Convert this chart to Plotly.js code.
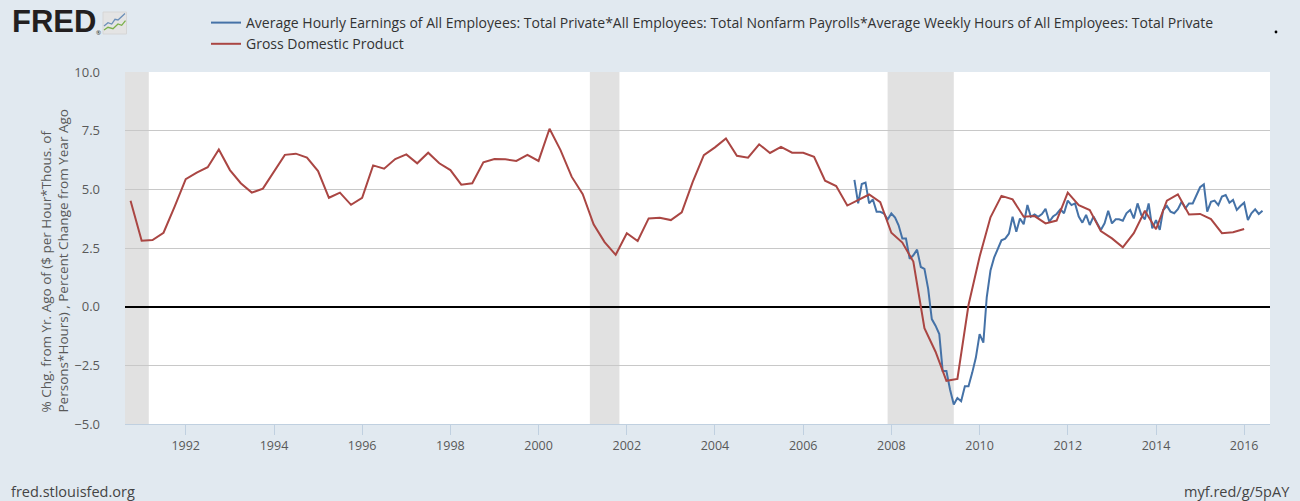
<!DOCTYPE html>
<html>
<head>
<meta charset="utf-8">
<script src="https://cdn.plot.ly/plotly-3.0.1.min.js"></script>
<style>html,body{margin:0;padding:0;background:#e1e9f0;}#chart{width:1300px;height:501px;}</style>
</head>
<body>
<div id="chart"></div>
<script>
// ---- Data ----
const gdpStart = [1990, 10];   // first quarterly observation (year, month)
const gdpValues = [
  4.51, 2.81, 2.84, 3.15, 4.26, 5.43, 5.71, 5.94, 6.70, 5.82,
  5.26, 4.86, 5.03, 5.75, 6.47, 6.52, 6.35, 5.78, 4.64, 4.86,
  4.34, 4.64, 6.02, 5.88, 6.29, 6.49, 6.11, 6.56, 6.11, 5.82,
  5.20, 5.26, 6.15, 6.29, 6.28, 6.21, 6.47, 6.21, 7.58, 6.67,
  5.54, 4.79, 3.51, 2.75, 2.21, 3.13, 2.80, 3.76, 3.79, 3.69,
  4.02, 5.32, 6.46, 6.79, 7.17, 6.43, 6.35, 6.92, 6.55, 6.81,
  6.56, 6.56, 6.39, 5.37, 5.14, 4.31, 4.54, 4.78, 4.45, 3.15,
  2.73, 1.92, -0.92, -1.92, -3.16, -3.08, 0.07, 2.13, 3.81, 4.72,
  4.57, 3.83, 3.86, 3.55, 3.67, 4.86, 4.33, 4.12, 3.22, 2.91,
  2.53, 3.13, 4.09, 3.30, 4.52, 4.79, 3.93, 3.95, 3.73, 3.13,
  3.17, 3.31
];
const laborStart = [2007, 3];  // first monthly observation (year, month)
const laborValues = [
  5.40, 4.40, 5.23, 5.29, 4.40, 4.57, 4.04, 4.04, 3.97, 3.71,
  3.97, 3.80, 3.47, 2.90, 2.90, 2.04, 2.19, 2.43, 1.69, 1.61,
  0.76, -0.53, -0.81, -1.17, -2.74, -2.74, -3.53, -4.17, -3.89, -4.03,
  -3.39, -3.39, -2.81, -2.17, -1.17, -1.53, 0.40, 1.54, 2.09, 2.47,
  2.83, 2.90, 3.11, 3.83, 3.19, 3.76, 3.51, 4.33, 3.83, 3.93,
  3.83, 3.95, 4.17, 3.62, 3.84, 3.95, 4.15, 3.98, 4.52, 4.33,
  4.40, 3.84, 3.58, 3.91, 3.48, 3.84, 3.55, 3.27, 3.55, 4.09,
  3.55, 3.72, 3.72, 3.66, 3.98, 4.12, 3.76, 4.40, 3.91, 3.72,
  4.40, 3.34, 3.69, 3.27, 4.12, 4.29, 4.05, 3.98, 4.15, 4.47,
  4.19, 4.40, 4.40, 4.72, 5.09, 5.21, 4.05, 4.47, 4.52, 4.33,
  4.69, 4.76, 4.43, 4.55, 4.12, 4.29, 4.43, 3.69, 3.98, 4.15,
  3.95, 4.09
];
const recessionStarts = ['1990-07-01', '2001-03-01', '2007-12-01'];
const recessionEnds   = ['1991-03-01', '2001-11-01', '2009-06-01'];
const laborName = 'Average Hourly Earnings of All Employees: Total Private*All Employees: Total Nonfarm Payrolls*Average Weekly Hours of All Employees: Total Private';
const gdpName = 'Gross Domestic Product';
const yTitle = '% Chg. from Yr. Ago of ($ per Hour*Thous. of<br>Persons*Hours) , Percent Change from Year Ago';
const yTicks = [-5, -2.5, 0, 2.5, 5, 7.5, 10];

// ---- date helpers ----
function pad(n){return (n<10?'0':'')+n;}
function dates(start, n, stepMonths){
  const out=[]; let y=start[0], m=start[1];
  for(let i=0;i<n;i++){ out.push(y+'-'+pad(m)+'-01'); m+=stepMonths; while(m>12){m-=12;y++;} }
  return out;
}
const gdpDates = dates(gdpStart, gdpValues.length, 3);
const laborDates = dates(laborStart, laborValues.length, 1);

// ---- pixel -> paper helpers for decorations ----
const L=125, R=1270, T=72, B=424;
const X = px => (px-L)/(R-L);
const Y = py => (B-py)/(B-T);

const FONT = 'Open Sans, sans-serif';

const traces = [
  {x: laborDates, y: laborValues, name: laborName, type: 'scatter', mode: 'lines',
   line: {color: '#4572a7', width: 2}},
  {x: gdpDates, y: gdpValues, name: gdpName, type: 'scatter', mode: 'lines',
   line: {color: '#aa4643', width: 2}}
];

const shapes = recessionStarts.map((s,i)=>({
  type:'rect', xref:'x', yref:'paper', x0:s, x1:recessionEnds[i], y0:0, y1:1,
  fillcolor:'#e1e1e1', line:{width:0}, layer:'below'
}));
// FRED icon
shapes.push({type:'rect', xref:'paper', yref:'paper', x0:X(103), x1:X(126.5), y0:Y(34), y1:Y(12),
  fillcolor:'#e4e4e4', line:{color:'#d6d6d6', width:1}, layer:'above'});
function pathOf(pts){return 'M'+pts.map(p=>X(p[0])+','+Y(p[1])).join('L');}
shapes.push({type:'path', xref:'paper', yref:'paper', path: pathOf([[104,26],[108,22.7],[111.7,24],[115,19.3],[118,20],[125,13.5]]),
  line:{color:'#6b8fb8', width:1.3}});
shapes.push({type:'path', xref:'paper', yref:'paper', path: pathOf([[104,30],[108,27.3],[113,28.7],[118,24],[121.7,25.3],[125.5,20.7]]),
  line:{color:'#7ab04a', width:1.3}});
shapes.push({type:'circle', xref:'paper', yref:'paper', x0:X(1274.6), x1:X(1277.4), y0:Y(33.4), y1:Y(30.6),
  fillcolor:'#000', line:{width:0}});

const annotations = [
  {text:'<b>FRED</b>', x:X(10), y:Y(22), xref:'paper', yref:'paper', xanchor:'left', yanchor:'middle',
   showarrow:false, font:{family:'Liberation Sans, Arial, sans-serif', size:31, color:'#231f20'}},
  {text:'®', x:X(94), y:Y(33), xref:'paper', yref:'paper', xanchor:'left', yanchor:'middle',
   showarrow:false, font:{family:FONT, size:6, color:'#231f20'}},
  {text:yTitle, x:X(54), y:Y(261.5), xref:'paper', yref:'paper', xanchor:'center', yanchor:'middle',
   textangle:-90, align:'left', showarrow:false, font:{family:FONT, size:13.5, color:'#595959'}},
  {text:'fred.stlouisfed.org', x:X(9), y:Y(491), xref:'paper', yref:'paper', xanchor:'left', yanchor:'middle',
   showarrow:false, font:{family:FONT, size:14.5, color:'#444'}},
  {text:'myf.red/g/5pAY', x:X(1292), y:Y(491), xref:'paper', yref:'paper', xanchor:'right', yanchor:'middle',
   showarrow:false, font:{family:FONT, size:14.5, color:'#444'}}
];

const layout = {
  width:1300, height:501,
  paper_bgcolor:'#e1e9f0', plot_bgcolor:'#ffffff',
  margin:{l:L, r:1300-R, t:T, b:501-B, pad:0, autoexpand:false},
  font:{family:FONT, color:'#595959'},
  showlegend:true,
  legend:{xref:'container', yref:'container', x:206/1300, y:1-7/501, xanchor:'left', yanchor:'top',
    orientation:'v', bgcolor:'rgba(0,0,0,0)', itemwidth:30, tracegroupgap:0,
    font:{family:FONT, size:14, color:'#333'}},
  xaxis:{type:'date', range:['1990-08-16','2016-08-02'], tick0:'1992-01-01', dtick:'M24', tickformat:'%Y',
    showgrid:false, zeroline:false, showline:true, linecolor:'#c0d0e0', linewidth:1,
    ticks:'outside', ticklen:10, tickcolor:'#c0d0e0', tickwidth:1, automargin:false,
    tickfont:{family:FONT, size:12.5, color:'#595959'}, fixedrange:true},
  yaxis:{range:[-5,10], tickvals:yTicks, tickformat:'.1f', showgrid:true, gridcolor:'#c8c8c8', gridwidth:1,
    zeroline:true, zerolinecolor:'#000', zerolinewidth:2, showline:false, ticks:'', automargin:false,
    ticklabelstandoff:24, tickfont:{family:FONT, size:13, color:'#595959'}, fixedrange:true},
  shapes:shapes,
  annotations:annotations
};

Plotly.newPlot('chart', traces, layout, {displayModeBar:false, staticPlot:true});
</script>
</body>
</html>
